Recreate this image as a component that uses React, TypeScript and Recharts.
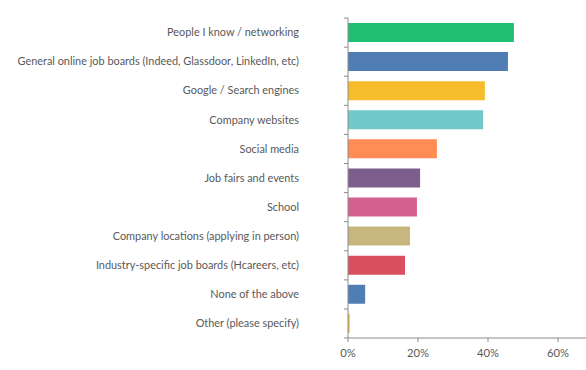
import React from "react";
import { BarChart, Bar, XAxis, YAxis, Cell } from "recharts";

const categories = [
  "People I know / networking",
  "General online job boards (Indeed, Glassdoor, LinkedIn, etc)",
  "Google / Search engines",
  "Company websites",
  "Social media",
  "Job fairs and events",
  "School",
  "Company locations (applying in person)",
  "Industry-specific job boards (Hcareers, etc)",
  "None of the above",
  "Other (please specify)",
];
const values = [0.474, 0.457, 0.391, 0.386, 0.254, 0.206, 0.197, 0.177, 0.163, 0.049, 0.005];
const colors = [
  "#1fbf72", "#517db5", "#f7bc2b", "#70c8cb", "#ff8c55", "#7d5d8c",
  "#d3608f", "#c7b77e", "#d94f5e", "#517db5", "#f7bc2b",
];
const xTicks = [0, 0.2, 0.4, 0.6];

const data = categories.map((c, i) => ({ name: c, value: values[i] }));

const AXIS = "#8c8c8c";
const TEXT = "#595959";
const FONT = "Lato";
const FS = 10.9;

const YTick = (props: any) => {
  const { x, y, payload, index } = props;
  const half = 14.5;
  return (
    <g>
      <line x1={x - 4} x2={x} y1={y - half} y2={y - half} stroke={AXIS} />
      {index === categories.length - 1 && (
        <line x1={x - 4} x2={x} y1={y + half} y2={y + half} stroke={AXIS} />
      )}
      <text
        x={x - 49}
        y={y}
        dy="0.34em"
        textAnchor="end"
        fill={TEXT}
        fontSize={FS}
        fontFamily={FONT}
      >
        {payload.value}
      </text>
    </g>
  );
};

export default function App() {
  return (
    <div style={{ position: "absolute", left: 0, top: 0, width: 586, height: 370, background: "#fff" }}>
      <BarChart
        width={586}
        height={370}
        data={data}
        layout="vertical"
        margin={{ top: 18, right: 0, bottom: 0, left: 0 }}
        barCategoryGap="17%"
      >
        <XAxis
          type="number"
          domain={[0, 0.68]}
          ticks={xTicks}
          tickFormatter={(v: number) => `${Math.round(v * 100)}%`}
          height={32}
          stroke={AXIS}
          tickSize={4}
          tickMargin={7}
          tick={{ fill: TEXT, fontSize: 11.2, fontFamily: FONT }}
          allowDataOverflow
        />
        <YAxis
          type="category"
          dataKey="name"
          width={348}
          stroke={AXIS}
          tickLine={false}
          tickSize={0}
          tickMargin={0}
          tick={<YTick />}
          interval={0}
        />
        <Bar dataKey="value" isAnimationActive={false}>
          {data.map((d, i) => (
            <Cell key={d.name} fill={colors[i]} />
          ))}
        </Bar>
      </BarChart>
    </div>
  );
}
